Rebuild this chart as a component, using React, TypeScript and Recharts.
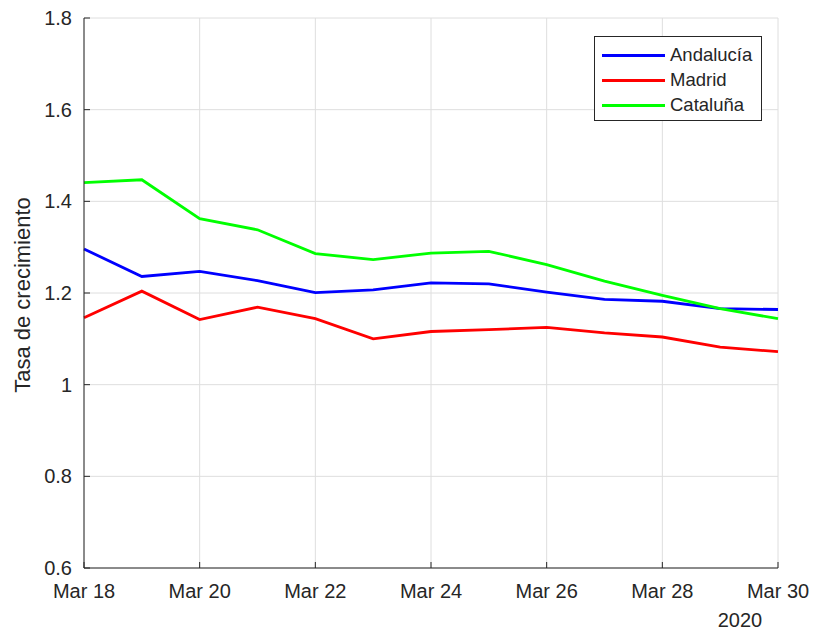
import React from 'react';
import { LineChart, Line, XAxis, YAxis, CartesianGrid } from 'recharts';

const days = [18, 19, 20, 21, 22, 23, 24, 25, 26, 27, 28, 29, 30];
const andalucia = [1.296, 1.236, 1.247, 1.227, 1.201, 1.207, 1.222, 1.22, 1.202, 1.186, 1.182, 1.166, 1.164];
const madrid = [1.146, 1.204, 1.142, 1.169, 1.144, 1.1, 1.116, 1.12, 1.125, 1.113, 1.104, 1.082, 1.072];
const cataluna = [1.441, 1.447, 1.362, 1.338, 1.286, 1.273, 1.287, 1.291, 1.262, 1.226, 1.195, 1.166, 1.144];

const seriesKeys = ['andalucia', 'madrid', 'cataluna'];
const seriesNames = ['Andalucía', 'Madrid', 'Cataluña'];
const seriesColors = ['#0000ff', '#ff0000', '#00ff00'];

const xTicks = [18, 20, 22, 24, 26, 28, 30];
const yTicks = [0.6, 0.8, 1, 1.2, 1.4, 1.6, 1.8];

const data = days.map((d, i) => ({
  day: d,
  andalucia: andalucia[i],
  madrid: madrid[i],
  cataluna: cataluna[i],
}));

const axisColor = '#262626';
const tickStyle = { fill: axisColor, fontSize: 20 };

const App: React.FC = () => {
  return (
    <div
      style={{
        position: 'absolute',
        left: 0,
        top: 0,
        width: 816,
        height: 630,
        background: '#fff',
        fontFamily: '"Liberation Sans", Arial, sans-serif',
      }}
    >
      <LineChart width={816} height={630} data={data} margin={{ top: 18, right: 38, bottom: 22, left: 24 }}>
        <CartesianGrid stroke="#dedede" strokeWidth={1} horizontalValues={yTicks} verticalValues={xTicks} />
        <XAxis
          dataKey="day"
          type="number"
          domain={[18, 30]}
          ticks={xTicks}
          height={40}
          tickFormatter={(v: number) => `Mar ${v}`}
          tick={tickStyle}
          tickSize={-6}
          tickMargin={22}
          stroke={axisColor}
          label={{
            content: (props: any) => {
              const vb = props.viewBox || { x: 84, y: 568, width: 694 };
              return (
                <text x={vb.x + vb.width - 38} y={vb.y + 59} textAnchor="middle" fill={axisColor} fontSize={20}>
                  2020
                </text>
              );
            },
          }}
        />
        <XAxis
          xAxisId="top"
          orientation="top"
          type="number"
          domain={[18, 30]}
          ticks={xTicks}
          height={0}
          tickFormatter={() => ''}
          tickSize={-6}
          stroke={axisColor}
        />
        <YAxis
          type="number"
          domain={[0.6, 1.8]}
          ticks={yTicks}
          width={60}
          tickFormatter={(v: number) => String(Math.round(v * 10) / 10)}
          tick={tickStyle}
          tickSize={-6}
          tickMargin={18}
          stroke={axisColor}
          label={{
            content: (props: any) => {
              const vb = props.viewBox || { x: 24, y: 18, height: 550 };
              const cx = 22;
              const cy = vb.y + vb.height / 2 + 2;
              return (
                <text
                  x={cx}
                  y={cy}
                  transform={`rotate(-90 ${cx} ${cy})`}
                  textAnchor="middle"
                  dominantBaseline="central"
                  fill={axisColor}
                  fontSize={22}
                >
                  Tasa de crecimiento
                </text>
              );
            },
          }}
        />
        <YAxis
          yAxisId="right"
          orientation="right"
          type="number"
          domain={[0.6, 1.8]}
          ticks={yTicks}
          width={0}
          tickFormatter={() => ''}
          tickSize={-6}
          stroke={axisColor}
        />
        {seriesKeys.map((k, i) => (
          <Line
            key={k}
            type="linear"
            dataKey={k}
            name={seriesNames[i]}
            stroke={seriesColors[i]}
            strokeWidth={2.8}
            dot={false}
            isAnimationActive={false}
          />
        ))}
      </LineChart>
      <div
        style={{
          position: 'absolute',
          left: 594,
          top: 36,
          width: 166,
          height: 83,
          border: `1px solid ${axisColor}`,
          background: '#fff',
          boxSizing: 'content-box',
        }}
      >
        {seriesNames.map((n, i) => (
          <div
            key={n}
            style={{
              position: 'absolute',
              left: 0,
              top: 6 + i * 25,
              height: 24,
              display: 'flex',
              alignItems: 'center',
            }}
          >
            <div style={{ marginLeft: 7, width: 63, height: 3, background: seriesColors[i] }} />
            <span style={{ marginLeft: 5, fontSize: 18.5, color: axisColor, lineHeight: '24px' }}>{n}</span>
          </div>
        ))}
      </div>
    </div>
  );
};

export default App;
